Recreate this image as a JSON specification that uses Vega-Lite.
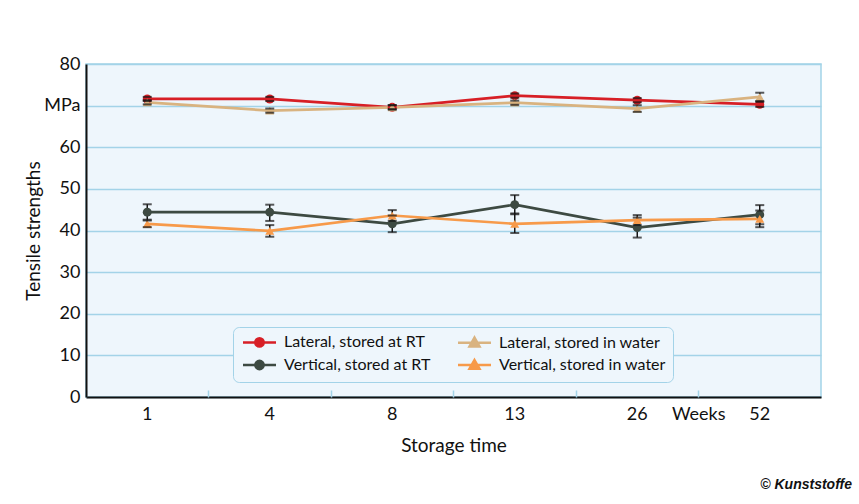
{
  "$schema": "https://vega.github.io/schema/vega-lite/v6.json",
  "width": 735,
  "height": 333,
  "autosize": {"type": "none"},
  "padding": {"left": 86, "top": 64, "right": 38, "bottom": 107},
  "background": "white",
  "config": {
    "font": "Lato",
    "view": {"fill": "#eef6fc", "stroke": "#a3d3e8", "strokeWidth": 1.5}
  },
  "title": {
    "text": "©  Kunststoffe",
    "orient": "bottom",
    "anchor": "end",
    "font": "Liberation Sans",
    "fontSize": 14,
    "fontWeight": "bold",
    "fontStyle": "italic",
    "color": "#111111",
    "dx": 31,
    "offset": 23
  },
  "data": {
    "values": [
      {"series": "Lateral, stored at RT", "week": "1", "value": 71.6, "lo": 71.1, "hi": 72.1},
      {"series": "Lateral, stored at RT", "week": "4", "value": 71.6, "lo": 71.1, "hi": 72.1},
      {"series": "Lateral, stored at RT", "week": "8", "value": 69.6, "lo": 69.1, "hi": 70.1},
      {"series": "Lateral, stored at RT", "week": "13", "value": 72.4, "lo": 71.9, "hi": 72.9},
      {"series": "Lateral, stored at RT", "week": "26", "value": 71.3, "lo": 70.8, "hi": 71.8},
      {"series": "Lateral, stored at RT", "week": "52", "value": 70.3, "lo": 69.7, "hi": 70.9},
      {"series": "Vertical, stored at RT", "week": "1", "value": 44.4, "lo": 42.6, "hi": 46.3},
      {"series": "Vertical, stored at RT", "week": "4", "value": 44.4, "lo": 42.3, "hi": 46.2},
      {"series": "Vertical, stored at RT", "week": "8", "value": 41.6, "lo": 39.6, "hi": 43.6},
      {"series": "Vertical, stored at RT", "week": "13", "value": 46.2, "lo": 43.9, "hi": 48.5},
      {"series": "Vertical, stored at RT", "week": "26", "value": 40.7, "lo": 38.3, "hi": 43.1},
      {"series": "Vertical, stored at RT", "week": "52", "value": 43.8, "lo": 41.5, "hi": 46.1},
      {"series": "Lateral, stored in water", "week": "1", "value": 70.8, "lo": 70.3, "hi": 71.3},
      {"series": "Lateral, stored in water", "week": "4", "value": 68.8, "lo": 68.3, "hi": 69.3},
      {"series": "Lateral, stored in water", "week": "8", "value": 69.6, "lo": 69.1, "hi": 70.1},
      {"series": "Lateral, stored in water", "week": "13", "value": 70.7, "lo": 70.2, "hi": 71.2},
      {"series": "Lateral, stored in water", "week": "26", "value": 69.3, "lo": 68.5, "hi": 70.1},
      {"series": "Lateral, stored in water", "week": "52", "value": 72.1, "lo": 71.1, "hi": 73.1},
      {"series": "Vertical, stored in water", "week": "1", "value": 41.6, "lo": 40.8, "hi": 42.4},
      {"series": "Vertical, stored in water", "week": "4", "value": 39.9, "lo": 38.5, "hi": 41.3},
      {"series": "Vertical, stored in water", "week": "8", "value": 43.6, "lo": 42.3, "hi": 44.9},
      {"series": "Vertical, stored in water", "week": "13", "value": 41.6, "lo": 39.4, "hi": 44.1},
      {"series": "Vertical, stored in water", "week": "26", "value": 42.5, "lo": 41.3, "hi": 43.7},
      {"series": "Vertical, stored in water", "week": "52", "value": 42.8, "lo": 40.8, "hi": 44.8}
    ]
  },
  "resolve": {"axis": {"x": "independent"}},
  "layer": [
    {
      "mark": {"type": "line", "strokeWidth": 2.7},
      "encoding": {
        "x": {
          "field": "week", "type": "ordinal",
          "sort": ["1", "4", "8", "13", "26", "52"],
          "scale": {"type": "band", "paddingInner": 0, "paddingOuter": 0},
          "axis": {
            "orient": "bottom",
            "domainColor": "#111111", "domainWidth": 2, "ticks": false, "grid": false,
            "labelOverlap": false,
            "labelAngle": 0, "labelFontSize": 18, "labelColor": "#111111", "labelPadding": 8,
            "title": "Storage time", "titleFontSize": 19, "titleFontWeight": "normal",
            "titleColor": "#111111", "titlePadding": 13
          }
        },
        "y": {
          "field": "value", "type": "quantitative", "title": "Tensile strengths",
          "scale": {"domain": [0, 80], "nice": false},
          "axis": {
            "values": [0, 10, 20, 30, 40, 50, 60, 70, 80],
            "labelExpr": "datum.value == 70 ? 'MPa' : datum.label",
            "ticks": false, "domainColor": "#111111", "domainWidth": 2,
            "gridColor": "#a3d3e8", "gridWidth": 1.5,
            "labelFontSize": 18, "labelColor": "#111111", "labelPadding": 6,
            "titleFontSize": 19, "titleFontWeight": "normal", "titleColor": "#111111", "titlePadding": 0
          }
        },
        "color": {
          "field": "series", "type": "nominal",
          "scale": {
            "domain": ["Lateral, stored at RT", "Vertical, stored at RT", "Lateral, stored in water", "Vertical, stored in water"],
            "range": ["#d71f26", "#3d4a42", "#d9b380", "#f79a4a"]
          },
          "legend": {
            "orient": "none", "legendX": 147, "legendY": 263,
            "columns": 2, "title": null,
            "fillColor": "#eef6fc", "strokeColor": "#a3d3e8", "cornerRadius": 6, "padding": 7,
            "labelFontSize": 16, "labelColor": "#111111", "labelOffset": 28, "labelLimit": 300,
            "columnPadding": 22, "rowPadding": 3,
            "symbolSize": 100, "symbolStrokeWidth": 2.5,
            "encode": {
              "symbols": {
                "update": {
                  "shape": {"signal": "indexof(datum.value, 'water') >= 0 ? 'M-1,0H5.6M2.3,-1L3.3,0.75L1.3,0.75Z' : 'M-1,0H5.6M3.14,0A0.84,0.84 0 1 1 1.46,0A0.84,0.84 0 1 1 3.14,0Z'"},
                  "fill": {"scale": "color", "field": "value"},
                  "stroke": {"scale": "color", "field": "value"},
                  "strokeWidth": {"value": 2.5},
                  "opacity": {"value": 1}
                }
              }
            }
          }
        }
      }
    },
    {
      "mark": {"type": "rule", "color": "#151515", "strokeWidth": 1.5},
      "encoding": {
        "x": {"field": "week", "type": "ordinal", "sort": ["1", "4", "8", "13", "26", "52"], "axis": null},
        "y": {"field": "lo", "type": "quantitative", "title": "Tensile strengths"},
        "y2": {"field": "hi"}
      }
    },
    {
      "transform": [{"filter": "indexof(datum.series, 'water') < 0"}],
      "mark": {"type": "point", "filled": true, "opacity": 1, "size": 80, "shape": "circle"},
      "encoding": {
        "x": {
          "field": "week", "type": "ordinal", "sort": ["1", "4", "8", "13", "26", "52"],
          "axis": {
            "orient": "bottom",
            "domain": false, "ticks": true, "tickColor": "#a3d3e8", "tickSize": -7, "tickWidth": 1.5,
            "bandPosition": 0, "grid": false, "labelAngle": 0, "labelOverlap": false,
            "labelExpr": "datum.value == '52' ? 'Weeks' : ''", "labelOffset": -61,
            "labelFontSize": 18, "labelColor": "#111111", "labelPadding": 15, "title": null
          }
        },
        "y": {"field": "value", "type": "quantitative", "title": "Tensile strengths"},
        "color": {"field": "series", "type": "nominal"}
      }
    },
    {
      "transform": [{"filter": "indexof(datum.series, 'water') >= 0"}],
      "mark": {"type": "point", "filled": true, "opacity": 1, "size": 80, "shape": "triangle-up"},
      "encoding": {
        "x": {"field": "week", "type": "ordinal", "sort": ["1", "4", "8", "13", "26", "52"], "axis": null},
        "y": {"field": "value", "type": "quantitative", "title": "Tensile strengths"},
        "color": {"field": "series", "type": "nominal"}
      }
    },
    {
      "mark": {"type": "tick", "color": "#151515", "size": 9, "thickness": 2},
      "encoding": {
        "x": {"field": "week", "type": "ordinal", "sort": ["1", "4", "8", "13", "26", "52"], "axis": null},
        "y": {"field": "lo", "type": "quantitative", "title": "Tensile strengths"}
      }
    },
    {
      "mark": {"type": "tick", "color": "#151515", "size": 9, "thickness": 2},
      "encoding": {
        "x": {"field": "week", "type": "ordinal", "sort": ["1", "4", "8", "13", "26", "52"], "axis": null},
        "y": {"field": "hi", "type": "quantitative", "title": "Tensile strengths"}
      }
    }
  ]
}
